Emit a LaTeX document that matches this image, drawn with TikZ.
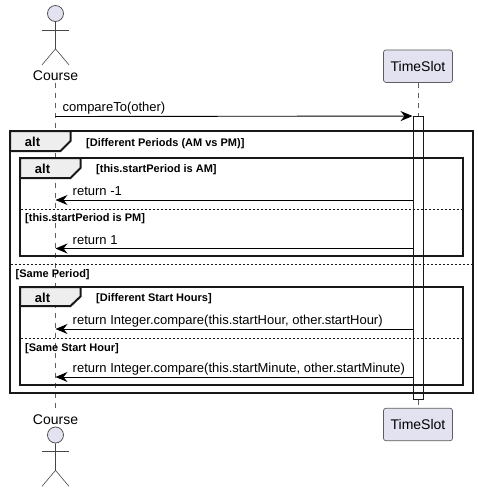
\documentclass[tikz,border=0pt]{standalone}
\usepackage{fontspec}
\setmainfont{Liberation Sans}
\usetikzlibrary{arrows.meta}
\definecolor{umlline}{HTML}{181818}
\definecolor{umlfill}{HTML}{E2E2F0}
\definecolor{umltab}{HTML}{EEEEEE}
\tikzset{
    actorline/.style={draw=umlline!80, line width=0.6pt},
    lifeline/.style={draw=umlline!70, line width=0.5pt, dash pattern=on 5pt off 5pt},
    actbox/.style={draw=umlline, fill=white, line width=0.9pt},
    altframe/.style={draw=umlline, line width=2pt},
    alttab/.style={draw=umlline, fill=umltab, line width=2pt},
    divider/.style={draw=umlline, line width=0.9pt, dash pattern=on 2pt off 2pt},
    msg/.style={draw=black, line width=0.9pt, -{Stealth[length=12pt,width=10pt,inset=4pt]}},
    msgtext/.style={font={\fontsize{13}{15}\selectfont}, anchor=base west, inner sep=0pt, text=black},
    guard/.style={font={\fontsize{11}{13}\selectfont\bfseries}, anchor=base west, inner sep=0pt, text=black},
    alttext/.style={font={\fontsize{13}{15}\selectfont\bfseries}, inner sep=0pt, text=black},
    actorname/.style={font={\fontsize{14}{16}\selectfont}, inner sep=0pt, text=black},
    slotbox/.style={draw=umlline!70, fill=umlfill, rounded corners=2.5pt, line width=0.7pt,
        minimum width=69pt, minimum height=32.5pt, inner sep=0pt,
        font={\fontsize{14}{16}\selectfont}, text=black},
}
\begin{document}
\begin{tikzpicture}[x=1pt, y=-1pt]
    \useasboundingbox (0,0) rectangle (478,491);
    % participants
    \node[actorname] (courseTop) at (55.5,75.5) {Course};
    \node[actorname] (courseBot) at (55.5,419.5) {Course};
    \node[slotbox] (slotTop) at (418,66.2) {TimeSlot};
    \node[slotbox] (slotBot) at (418,424.5) {TimeSlot};
    % stick figures
    \foreach \top/\name in {13.5/headTop, 435/headBot} {
        \node[circle, draw=umlline!80, fill=umlfill, line width=0.7pt, minimum size=16pt, inner sep=0pt]
            (\name) at (55.5,\top) {};
        \draw[actorline] (\name.south) -- ++(0,27) -- ++(-13.5,16) ++(13.5,-16) -- ++(13.5,16);
        \draw[actorline] (\name.south) ++(-13.5,8) -- ++(27,0);
    }
    % lifelines
    \coordinate (slotAct) at (418,116.5);
    \coordinate (slotEnd) at (418,399.5);
    \draw[lifeline] (courseTop.south) ++(0,2) -- ([yshift=4pt]courseBot.north);
    \draw[lifeline] (slotTop.south) -- (slotAct);
    \draw[lifeline] (slotEnd) -- (slotBot.north);
    \node[actbox, minimum width=10pt, minimum height=283pt, inner sep=0pt] (active) at (418,258) {};
    % frames
    \draw[altframe] (10.2,131.2) rectangle (472.8,392.8);
    \draw[altframe] (20.2,158.2) rectangle (462.8,256);
    \draw[altframe] (20.2,287.2) rectangle (462.8,385);
    \draw[alttab] (10.2,131.2) -- (70.5,131.2) -- (70.5,141) -- (60.5,151) -- (10.2,151) -- cycle;
    \draw[alttab] (20.2,158.2) -- (80.5,158.2) -- (80.5,168) -- (70.5,178) -- (20.2,178) -- cycle;
    \draw[alttab] (20.2,287.2) -- (80.5,287.2) -- (80.5,296.5) -- (70.5,306) -- (20.2,306) -- cycle;
    \node[alttext] (altOuter) at (32.5,142) {alt};
    \node[alttext] (altFirst) at (42.5,169) {alt};
    \node[alttext] (altSecond) at (42.5,298) {alt};
    \node[guard] (guardA) at (86,146) {[Different Periods (AM vs PM)]};
    \node[guard] (guardB) at (96,172) {[this.startPeriod is AM]};
    \node[guard] (guardC) at (25,221) {[this.startPeriod is PM]};
    \node[guard] (guardD) at (15.5,277) {[Same Period]};
    \node[guard] (guardE) at (96,301) {[Different Start Hours]};
    \node[guard] (guardF) at (25,351) {[Same Start Hour]};
    % dividers
    \draw[divider] (20.5,209) -- (462.5,209);
    \draw[divider] (10.5,264.5) -- (472.5,264.5);
    \draw[divider] (20.5,338) -- (462.5,338);
    % messages
    \coordinate (callFrom) at (55.5,116.5);
    \draw[msg] (callFrom) -- (active.north west);
    \node[msgtext] (callText) at (62.5,111) {compareTo(other)};
    \foreach \y/\txt/\name in {200/return -1/retA, 248.5/return 1/retB,
        329/{return Integer.compare(this.startHour, other.startHour)}/retC,
        377/{return Integer.compare(this.startMinute, other.startMinute)}/retD} {
        \coordinate (\name From) at (413,\y);
        \coordinate (\name To) at (55.5,\y);
        \draw[msg] (\name From) -- (\name To);
        \node[msgtext] (\name Text) at (72.5,\y-4.5) {\txt};
    }
\end{tikzpicture}
\end{document}
